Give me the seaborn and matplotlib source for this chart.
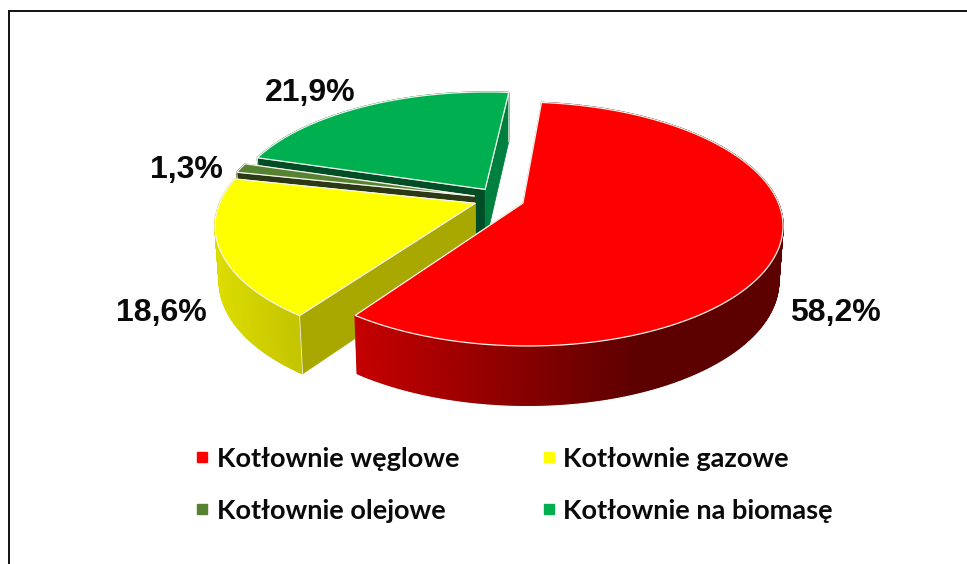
import numpy as np
import matplotlib
matplotlib.use("Agg")
import matplotlib.pyplot as plt
import seaborn as sns
from matplotlib.collections import PolyCollection
from matplotlib.lines import Line2D
from matplotlib.patches import Polygon

categories = ["Kotłownie węglowe", "Kotłownie gazowe", "Kotłownie olejowe", "Kotłownie na biomasę"]
shares = [58.2, 18.6, 1.3, 21.9]

top_colors = ["#ff0000", "#ffff00", "#568232", "#00b050"]
rim_light = ["#c40000", "#dcdc00", "#2b3a14", "#00803f"]
rim_dark = ["#5c0000", "#c4c400", "#2b3a14", "#00803f"]
start_face = ["#a00000", "#a8a800", "#2b3a14", "#004d26"]
end_face = ["#a00000", "#a8a800", "#2b3a14", "#00803f"]
gradient_span = [0.66, 1.0, 1.0, 1.0]

# pie geometry, pixels of the 967x564 picture
OX, OY = 499, 199
SX, SY = 254, 117
PERSP = 0.17
DEPTH = 0.46
START_ANGLE = 5.8
EXPLODE = 0.1
EDGE = "#f4f4ec"


def project(theta, radius, offset, bottom=False):
    # theta in degrees clockwise from the far side of the pie
    t = np.radians(theta)
    u = radius * np.sin(t) + offset[0]
    v = -radius * np.cos(t) + offset[1]
    w = 1 - PERSP * v
    x = u / w
    y = v / w
    if bottom:
        x = x * 0.985
        y = y + DEPTH / np.sqrt(w)
    return np.column_stack([x, y])


def draw_slice(ax, a0, a1, i):
    mid = np.radians((a0 + a1) / 2)
    offset = (EXPLODE * np.sin(mid), -EXPLODE * np.cos(mid))
    angles = np.linspace(a0, a1, max(int(a1 - a0) * 2, 4))
    top = project(angles, 1.0, offset)
    bot = project(angles, 1.0, offset, bottom=True)
    apex_top = project(np.array([0.0]), 0.0, offset)
    apex_bot = project(np.array([0.0]), 0.0, offset, bottom=True)

    def add_face(tip, col):
        face = [apex_top[0], top[tip], bot[tip], apex_bot[0]]
        ax.add_patch(Polygon(face, closed=True, facecolor=col, edgecolor=col, linewidth=0.6))
        ax.plot([apex_top[0, 0], top[tip, 0], bot[tip, 0]], [apex_top[0, 1], top[tip, 1], bot[tip, 1]],
                color=EDGE, linewidth=0.6, zorder=1)

    # a cut face turned away from the viewer goes under the rim
    start_seen = np.sin(np.radians(a0)) < 0
    end_seen = np.sin(np.radians(a1)) > 0
    if not start_seen:
        add_face(0, start_face[i])
    if not end_seen:
        add_face(-1, end_face[i])

    # rim, shaded from left to right
    quads = [[top[k], top[k + 1], bot[k + 1], bot[k]] for k in range(len(angles) - 1)]
    xs = top[:-1, 0]
    pos = np.clip((xs - xs.min()) / (gradient_span[i] * (xs.max() - xs.min())), 0, 1)
    pal = sns.blend_palette([rim_light[i], rim_dark[i]], 64)
    cols = [pal[int(p * 63)] for p in pos]
    ax.add_collection(PolyCollection(quads, facecolors=cols, edgecolors=cols, linewidths=1.0, zorder=1))

    if start_seen:
        add_face(0, start_face[i])
    if end_seen:
        add_face(-1, end_face[i])

    ax.add_patch(Polygon(np.vstack([apex_top, top]), closed=True, facecolor=top_colors[i], edgecolor=EDGE, linewidth=0.9))


sns.set_theme(style="white")
plt.rcParams["font.family"] = ["Liberation Sans", "DejaVu Sans"]

W, H = 967, 564
fig = plt.figure(figsize=(W / 100, H / 100), dpi=100)
ax = fig.add_axes([9 / W, 0, (W - 9) / W, (H - 11) / H])

edges = START_ANGLE + 3.6 * np.concatenate([[0], np.cumsum(shares)])
for i in [3, 2, 1, 0]:
    draw_slice(ax, edges[i], edges[i + 1], i)

ax.set_xlim((9 - OX) / SX, (W - OX) / SX)
ax.set_ylim((H - OY) / SY, (11 - OY) / SY)
ax.set_xticks([])
ax.set_yticks([])
for side in ["right", "bottom"]:
    ax.spines[side].set_visible(False)
for side in ["left", "top"]:
    ax.spines[side].set_color("#111111")
    ax.spines[side].set_linewidth(1.4)

label_xy = [(835, 313), (161, 313), (186, 170), (310, 93)]
for value, (lx, ly) in zip(shares, label_xy):
    fig.text(lx / W, 1 - ly / H, f"{value:.1f}%".replace(".", ","), ha="center", va="center",
             fontsize=23, fontweight="bold", color="#0a0a0a")

handles = [Line2D([], [], linestyle="none", marker="s", markersize=6.5, color=c) for c in top_colors]
order = [0, 2, 1, 3]
fig.legend(
    [handles[k] for k in order],
    [categories[k] for k in order],
    ncol=2,
    loc="upper left",
    bbox_to_anchor=(172 / W, 1 - 433 / H),
    frameon=False,
    prop={"family": "Lato", "weight": "bold", "size": 19.5},
    labelcolor="#0a0a0a",
    handletextpad=-0.05,
    handlelength=1.2,
    columnspacing=2.7,
    labelspacing=1.05,
    borderpad=0,
)

fig.savefig("out.png", dpi=100)
